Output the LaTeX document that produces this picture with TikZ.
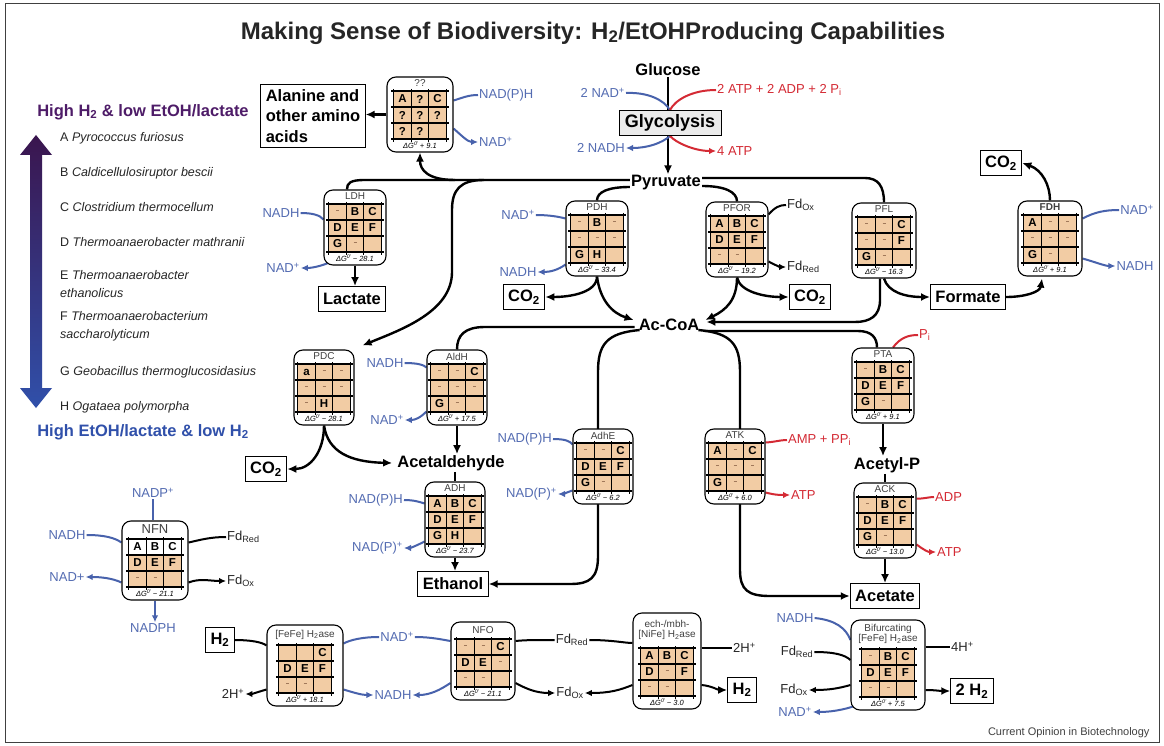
\documentclass[tikz,border=0pt]{standalone}
\usepackage{fontspec}
\setmainfont{Liberation Sans}
\usetikzlibrary{arrows.meta,calc}
\pgfdeclarelayer{back}
\pgfdeclarelayer{bg}
\pgfsetlayers{back,bg,main}
\definecolor{tanc}{RGB}{242,204,164}
\definecolor{cblue}{RGB}{72,98,172}
\definecolor{tblue}{RGB}{84,108,178}
\definecolor{cred}{RGB}{212,42,52}
\definecolor{lpurple}{RGB}{78,28,104}
\definecolor{lblue}{RGB}{48,80,170}
\definecolor{dashc}{RGB}{160,120,90}
\newcommand{\dd}{\textcolor{dashc}{\rule[0.45ex]{3pt}{1.3pt}}}
\newcommand{\dG}[1]{ΔG\textsuperscript{0'}\,#1}
\def\rowonefill{tanc}
\tikzset{
 ebox/.style={draw, fill=white, rounded corners=9pt, line width=1.1pt, inner sep=0pt},
 cell/.style={font=\fontsize{11.5}{12}\selectfont\bfseries, inner sep=0pt},
 gridl/.style={line width=1.1pt},
 elabel/.style={font=\fontsize{10}{10.5}\selectfont, align=center, inner sep=0pt, text=black!75},
 dglabel/.style={font=\fontsize{7.5}{8}\selectfont\itshape, inner sep=0pt},
 met/.style={font=\fontsize{16.5}{18}\selectfont\bfseries, inner sep=1pt},
 mbox/.style={draw, fill=white, line width=0.9pt, font=\fontsize{16.5}{20}\selectfont\bfseries, inner xsep=5pt, inner ysep=3pt, minimum height=25pt},
 cof/.style={font=\fontsize{13}{14}\selectfont, text=tblue, inner sep=1pt},
 rcof/.style={cof, text=cred},
 kcof/.style={cof, text=black!85},
 thk/.style={line width=2.4pt},
 bl/.style={line width=2pt, draw=cblue},
 rd/.style={line width=2pt, draw=cred},
 kl/.style={line width=2pt, draw=black},
 arr/.style={-{Latex[length=9pt,width=8pt]}},
 sarr/.style={-{Latex[length=7pt,width=6.5pt]}},
 spec/.style={font=\fontsize{12.5}{18}\selectfont, anchor=west, inner sep=0pt, text=black!85, align=left},
}
% name, gx, gy, width, toph, label, cells, dG
\newcommand{\enz}[8]{%
\begin{scope}[shift={(#2,#3)}]
 \node[ebox, minimum width=#4pt, minimum height=61pt+#5pt] (#1) at (0,{(13-#5)/2}) {};
 \fill[fill=\rowonefill] (-26.25,-24) rectangle (26.25,-8);
 \fill[tanc] (-26.25,-8) rectangle (26.25,24);
 \foreach \cellc [count=\i from 0] in {#7} {
   \pgfmathtruncatemacro\col{mod(\i,3)}
   \pgfmathtruncatemacro\row{floor(\i/3)}
   \node[cell] at ({(\col-1)*17.5},{-16+16*\row}) {\cellc};
 }
 \foreach \xx in {-26.25,-8.75,8.75,26.25} \draw[gridl] (\xx,-26) -- (\xx,27);
 \foreach \yy in {-24,-8,8,24} \draw[gridl] (-29,\yy) -- (29,\yy);
 \node[elabel] at (0,{-24-#5/2-0.5}) {#6};
 \node[dglabel] at (0,30.5) {#8};
\end{scope}}
\begin{document}
\begin{tikzpicture}[x=1pt,y=-1pt]
\useasboundingbox (0,0) rectangle (1164,746);
\begin{pgfonlayer}{back}
\fill[white] (0,0) rectangle (1164,746);
\draw[line width=0.8pt, black!75] (5,3) rectangle (1159,742);
\end{pgfonlayer}

% title
\node[font=\fontsize{24}{27}\selectfont\bfseries, text=black!85] (title) at (593,33) {Making Sense of Biodiversity: H\textsubscript{2}/EtOHProducing Capabilities};

% legend
\node[font=\fontsize{16.5}{18}\selectfont\bfseries, text=lpurple] (hi) at (143,112) {High H\textsubscript{2} \& low EtOH/lactate};
\node[font=\fontsize{16.5}{18}\selectfont\bfseries, text=lblue] (lo) at (143,432) {High EtOH/lactate \& low H\textsubscript{2}};
\shade[top color=lpurple!75!black, bottom color=lblue] (36,135) -- (52,155) -- (42,155) -- (42,388) -- (52,388) -- (36,408) -- (20,388) -- (30,388) -- (30,155) -- (20,155) -- cycle;
\node[spec] (sa) at (60,138) {A \textit{Pyrococcus furiosus}};
\node[spec] (sb) at (60,173) {B \textit{Caldicellulosiruptor bescii}};
\node[spec] (sc) at (60,207) {C \textit{Clostridium thermocellum}};
\node[spec] (sd) at (60,242) {D \textit{Thermoanaerobacter mathranii}};
\node[spec] (se) at (60,284) {E \textit{Thermoanaerobacter}\\\textit{ethanolicus}};
\node[spec] (sf) at (60,326) {F \textit{Thermoanaerobacterium}\\\textit{saccharolyticum}};
\node[spec] (sg) at (60,372) {G \textit{Geobacillus thermoglucosidasius}};
\node[spec] (sh) at (60,407) {H \textit{Ogataea polymorpha}};

% metabolites
\node[mbox, align=left, font=\fontsize{16.5}{20.5}\selectfont\bfseries, inner sep=5pt] (ala) at (313,116) {Alanine and\\other amino\\acids};
\node[met] (glc) at (668,70) {Glucose};
\node[mbox, fill=black!8, font=\fontsize{18}{20}\selectfont\bfseries, inner xsep=6pt] (gly) at (670,123) {Glycolysis};
\node[met] (pyr) at (666,183) {Pyruvate};
\node[met] (acoa) at (669,325) {Ac-CoA};
\node[met] (acald) at (451,463) {Acetaldehyde};
\node[met] (acp) at (887,465) {Acetyl-P};
\node[mbox] (lac) at (352,299) {Lactate};
\node[mbox] (co2a) at (524,297) {CO\textsubscript{2}};
\node[mbox] (co2b) at (810,297) {CO\textsubscript{2}};
\node[mbox] (form) at (968,297) {Formate};
\node[mbox] (co2c) at (1001,163) {CO\textsubscript{2}};
\node[mbox] (co2d) at (266,469) {CO\textsubscript{2}};
\node[mbox] (etoh) at (453,584) {Ethanol};
\node[mbox] (acet) at (885,596) {Acetate};
\node[mbox] (h2a) at (220,640) {H\textsubscript{2}};
\node[mbox] (h2b) at (742,690) {H\textsubscript{2}};
\node[mbox] (h2c) at (972,691) {2 H\textsubscript{2}};

% enzymes
\enz{qq}{420}{115}{66}{14}{??}{A,?,C,?,?,?,?,?,{}}{\dG{+ 9.1}}
\enz{ldh}{355}{228}{62}{14}{LDH}{\dd,B,C,D,E,F,G,\dd,{}}{\dG{− 28.1}}
\enz{pdh}{597}{239}{62}{14}{PDH}{\dd,B,\dd,\dd,\dd,\dd,G,H,{}}{\dG{− 33.4}}
\enz{pfor}{737}{240}{62}{14}{PFOR}{A,B,C,D,E,F,\dd,\dd,{}}{\dG{− 19.2}}
\enz{pfl}{884}{241}{64}{14}{PFL}{\dd,\dd,C,\dd,\dd,F,G,\dd,{}}{\dG{− 16.3}}
\enz{fdh}{1050}{239}{64}{14}{\textbf{FDH}}{A,\dd,\dd,\dd,\dd,\dd,G,\dd,{}}{\dG{+ 9.1}}
\enz{pdc}{324}{388}{60}{14}{PDC}{a,\dd,\dd,\dd,\dd,\dd,\dd,H,{}}{\dG{− 28.1}}
\enz{aldh}{457}{388}{60}{14}{AldH}{\dd,\dd,C,\dd,\dd,\dd,G,\dd,{}}{\dG{+ 17.5}}
\enz{adhe}{603}{467}{60}{14}{AdhE}{\dd,\dd,C,D,E,F,G,\dd,{}}{\dG{− 6.2}}
\enz{atk}{735}{467}{60}{14}{ATK}{A,\dd,C,\dd,\dd,\dd,G,\dd,{}}{\dG{+ 6.0}}
\enz{pta}{883}{386}{62}{14}{PTA}{\dd,B,C,D,E,F,G,\dd,{}}{\dG{+ 9.1}}
\enz{ack}{885}{521}{62}{14}{ACK}{\dd,B,C,D,E,F,G,\dd,{}}{\dG{− 13.0}}
\enz{adh}{455}{520}{60}{14}{ADH}{A,B,C,D,E,F,G,H,{}}{\dG{− 23.7}}
\def\rowonefill{white}
\enz{nfn}{155}{563}{66}{18}{\fontsize{13}{13}\selectfont NFN}{A,B,C,D,E,F,\dd,\dd,{}}{\dG{− 21.1}}
\def\rowonefill{tanc}
\enz{fefe}{305}{669}{76}{20}{[FeFe] H\textsubscript{2}ase}{{},{},C,D,E,F,\dd,\dd,{}}{\dG{+ 18.1}}
\enz{nfo}{483}{663}{64}{17}{NFO}{\dd,\dd,C,D,E,\dd,\dd,\dd,{}}{\dG{− 21.1}}
\enz{ech}{667}{672}{68}{35}{ech-/mbh-\\{}[NiFe] H\textsubscript{2}ase}{A,B,C,D,\dd,F,\dd,\dd,{}}{\dG{− 3.0}}
\enz{bif}{888}{673}{74}{29}{Bifurcating\\{}[FeFe] H\textsubscript{2}ase}{\dd,B,C,D,E,F,\dd,\dd,{}}{\dG{+ 7.5}}

% cofactor labels
\node[cof, anchor=west] (qqnadph) at (478,95) {NAD(P)H};
\node[cof, anchor=west] (qqnad) at (478,142) {NAD\textsuperscript{+}};
\node[cof, anchor=east] (gnad) at (626,93) {2 NAD\textsuperscript{+}};
\node[cof, anchor=east] (gnadh) at (626,148) {2 NADH};
\node[rcof, anchor=west] (gatp) at (716,90) {2 ATP + 2 ADP + 2 P\textsubscript{i}};
\node[rcof, anchor=west] (g4atp) at (716,151) {4 ATP};
\node[cof] (ldhnadh) at (281,213) {NADH};
\node[cof] (ldhnad) at (283,268) {NAD\textsuperscript{+}};
\node[cof] (pdhnad) at (518,215) {NAD\textsuperscript{+}};
\node[cof] (pdhnadh) at (518,272) {NADH};
\node[kcof, anchor=west] (pforfdo) at (786,205) {Fd\textsubscript{Ox}};
\node[kcof, anchor=west] (pforfdr) at (786,267) {Fd\textsubscript{Red}};
\node[cof] (fdhnad) at (1137,210) {NAD\textsuperscript{+}};
\node[cof] (fdhnadh) at (1135,266) {NADH};
\node[cof] (aldnadh) at (385,363) {NADH};
\node[cof] (aldnad) at (387,420) {NAD\textsuperscript{+}};
\node[cof, anchor=east] (adhenadph) at (553,439) {NAD(P)H};
\node[cof, anchor=east] (adhenadp) at (558,494) {NAD(P)\textsuperscript{+}};
\node[rcof, anchor=west] (atkamp) at (787,440) {AMP + PP\textsubscript{i}};
\node[rcof, anchor=west] (atkatp) at (790,495) {ATP};
\node[rcof, anchor=west] (ptapi) at (918,335) {P\textsubscript{i}};
\node[rcof, anchor=west] (ackadp) at (934,497) {ADP};
\node[rcof, anchor=west] (ackatp) at (936,552) {ATP};
\node[cof, anchor=east] (adhnadph) at (404,500) {NAD(P)H};
\node[cof, anchor=east] (adhnadp) at (404,548) {NAD(P)\textsuperscript{+}};
\node[cof] (nfnnadp) at (153,493) {NADP\textsuperscript{+}};
\node[cof] (nfnnadh) at (67,535) {NADH};
\node[cof] (nfnnad) at (67,577) {NAD+};
\node[cof] (nfnnadph) at (153,628) {NADPH};
\node[kcof, anchor=west] (nfnfdr) at (226,537) {Fd\textsubscript{Red}};
\node[kcof, anchor=west] (nfnfdo) at (226,581) {Fd\textsubscript{Ox}};
\node[kcof] (h2p1) at (233,694) {2H\textsuperscript{+}};
\node[cof] (fnad) at (397,637) {NAD\textsuperscript{+}};
\node[cof] (fnadh) at (393,695) {NADH};
\node[kcof] (nfofdr) at (572,640) {Fd\textsubscript{Red}};
\node[kcof] (nfofdo) at (570,693) {Fd\textsubscript{Ox}};
\node[kcof, anchor=west] (h2p2) at (732,648) {2H\textsuperscript{+}};
\node[cof] (bnadh) at (795,618) {NADH};
\node[kcof] (bfdr) at (797,652) {Fd\textsubscript{Red}};
\node[kcof] (bfdo) at (794,690) {Fd\textsubscript{Ox}};
\node[cof] (bnad) at (795,712) {NAD\textsuperscript{+}};
\node[kcof, anchor=west] (h4p) at (950,647) {4H\textsuperscript{+}};
\node[font=\fontsize{11}{12}\selectfont, text=black!75, anchor=east] (credit) at (1153,733) {Current Opinion in Biotechnology};

\begin{pgfonlayer}{bg}
% main black flows
\draw[thk,arr] (glc.south) -- (glc.south |- pyr.north);
\draw[thk,arr] (qq.west) -- (qq.west -| ala.east);
\draw[thk] ($(pyr.west)+(0,-3)$) -- (365,180) .. controls (350,180) and (347,183) .. ($(ldh.north)+(-8,0)$);
\draw[thk,arr] (455,180) .. controls (428,180) and (420,170) .. (qq.south);
\draw[thk,arr] (484,180) .. controls (460,180) and (452,190) .. (452,210) -- (452,272) .. controls (452,312) and (400,330) .. ($(pdc.north east)+(8,-4)$);
\draw[thk] ($(pyr.west)+(0,4)$) .. controls (608,187) and (597,192) .. (pdh.north);
\draw[thk] ($(pyr.east)+(0,3)$) .. controls (725,186) and (737,192) .. (pfor.north);
\draw[thk] ($(pyr.east)+(0,-5)$) -- (865,178) .. controls (878,178) and (884,186) .. (pfl.north);
\draw[thk,arr] (pdh.south) .. controls (597,292) and (572,297) .. (co2a.east);
\draw[thk,arr] (pdh.south) .. controls (600,300) and (612,313) .. ($(acoa.north west)+(-4,2)$);
\draw[thk,arr] (pfor.south) .. controls (737,300) and (726,310) .. ($(acoa.north east)+(5,2)$);
\draw[thk,arr] (pfor.south) .. controls (740,292) and (765,297) .. (co2b.west);
\draw[thk,arr] (pfl.south) .. controls (888,292) and (905,297) .. (form.west);
\draw[thk,arr] ($(pfl.south)+(-4,0)$) -- (880,300) .. controls (880,316) and (870,322) .. (855,322) -- ($(acoa.east)+(6,-3)$);
\draw[thk] ($(acoa.east)+(4,6)$) -- (858,331) .. controls (872,331) and (877,338) .. ($(pta.north)+(-6,0)$);
\draw[thk,arr] (form.east) .. controls (1025,297) and (1040,292) .. ($(fdh.south)+(-8,2)$);
\draw[thk,arr] (fdh.north) .. controls (1050,185) and (1042,170) .. (co2c.east);
\draw[thk] ($(acoa.west)+(-3,2)$) -- (485,327) .. controls (465,327) and (457,335) .. (aldh.north);
\draw[thk,arr] ($(acoa.south west)+(2,-2)$) .. controls (606,333) and (598,345) .. (598,372) -- (598,556) .. controls (598,578) and (590,584) .. (570,584) -- (etoh.east);
\draw[thk,arr] ($(acoa.south east)+(-2,-2)$) .. controls (732,333) and (740,345) .. (740,372) -- (740,570) .. controls (740,590) and (748,596) .. (770,596) -- (acet.west);
\draw[thk,arr] (pdc.south) .. controls (324,452) and (310,469) .. (co2d.east);
\draw[thk,arr] (pdc.south) .. controls (328,452) and (350,462) .. ($(acald.west)+(-4,0)$);
\draw[thk,arr] (aldh.south) -- (aldh.south |- acald.north);
\draw[thk] (acald.south -| adh.north) -- (adh.north);
\draw[thk,arr] (adh.south) -- (adh.south |- etoh.north);
\draw[thk,arr] (ldh.south) -- (ldh.south |- lac.north);
\draw[thk,arr] (pta.south) -- (pta.south |- acp.north);
\draw[thk] (acp.south -| ack.north) -- (ack.north);
\draw[thk,arr] (ack.south) -- (ack.south |- acet.north);

% glycolysis cofactors
\draw[bl] (gnad.east) .. controls (648,92) and (664,100) .. (gly.north);
\draw[rd] (gly.north) .. controls (675,100) and (692,90) .. (gatp.west);
\draw[bl,sarr] (gly.south) .. controls (662,143) and (648,148) .. (gnadh.east);
\draw[rd,sarr] (gly.south) .. controls (676,143) and (695,151) .. (g4atp.west);

% enzyme cofactors
\draw[bl] ($(qq.east)+(0,-14)$) .. controls (462,98) and (468,95) .. (qqnadph.west);
\draw[bl,sarr] ($(qq.east)+(0,14)$) .. controls (462,136) and (468,142) .. (qqnad.west);
\draw[bl] (ldhnadh.east) .. controls (312,213) and (320,215) .. ($(ldh.west)+(0,-8)$);
\draw[bl,sarr] ($(ldh.south west)+(8,-4)$) .. controls (322,266) and (312,268) .. (ldhnad.east);
\draw[bl] (pdhnad.east) .. controls (550,215) and (560,217) .. ($(pdh.west)+(0,-20)$);
\draw[bl,sarr] ($(pdh.west)+(0,26)$) .. controls (558,270) and (550,272) .. (pdhnadh.east);
\draw[kl] ($(pfor.east)+(0,-25)$) .. controls (775,207) and (780,205) .. (pforfdo.west);
\draw[kl,sarr] ($(pfor.east)+(0,22)$) .. controls (775,265) and (780,267) .. (pforfdr.west);
\draw[bl] ($(fdh.east)+(0,-20)$) .. controls (1095,212) and (1105,210) .. (fdhnad.west);
\draw[bl,sarr] ($(fdh.east)+(0,20)$) .. controls (1095,262) and (1105,266) .. (fdhnadh.west);
\draw[bl] (aldnadh.east) .. controls (418,363) and (424,365) .. ($(aldh.west)+(0,-20)$);
\draw[bl,sarr] ($(aldh.west)+(0,24)$) .. controls (420,418) and (415,420) .. (aldnad.east);
\draw[bl] (adhenadph.east) .. controls (565,439) and (570,441) .. ($(adhe.west)+(0,-22)$);
\draw[bl,sarr] ($(adhe.west)+(0,24)$) .. controls (568,492) and (563,494) .. (adhenadp.east);
\draw[rd] ($(atk.east)+(0,-24)$) .. controls (775,442) and (780,440) .. (atkamp.west);
\draw[rd,sarr] ($(atk.east)+(0,26)$) .. controls (775,495) and (780,495) .. (atkatp.west);
\draw[rd] ($(pta.north)+(10,0)$) .. controls (900,338) and (908,335) .. (ptapi.west);
\draw[rd] ($(ack.east)+(0,-22)$) .. controls (924,499) and (928,497) .. (ackadp.west);
\draw[rd,sarr] ($(ack.east)+(0,24)$) .. controls (924,550) and (928,552) .. (ackatp.west);
\draw[bl] (adhnadph.east) .. controls (414,500) and (420,502) .. ($(adh.west)+(0,-16)$);
\draw[bl,sarr] ($(adh.west)+(0,22)$) .. controls (416,546) and (410,548) .. (adhnadp.east);
% NFN
\draw[bl] (nfnnadp.south) -- (nfnnadp.south |- nfn.north);
\draw[bl] (nfnnadh.east) .. controls (105,535) and (115,538) .. ($(nfn.west)+(0,-18)$);
\draw[bl,sarr] ($(nfn.west)+(0,22)$) .. controls (112,578) and (100,577) .. (nfnnad.east);
\draw[bl,sarr] (nfn.south) -- (nfn.south |- nfnnadph.north);
\draw[kl] ($(nfn.east)+(0,-18)$) .. controls (200,540) and (210,537) .. (nfnfdr.west);
\draw[kl,sarr] ($(nfn.east)+(0,22)$) .. controls (200,578) and (210,581) .. (nfnfdo.west);
% bottom row
\draw[kl] (h2a.east) .. controls (250,640) and (262,642) .. ($(fefe.west)+(0,-20)$);
\draw[kl,sarr] ($(fefe.west)+(0,24)$) .. controls (258,692) and (252,694) .. (h2p1.east);
\draw[bl] (fnad.west) .. controls (362,637) and (350,640) .. ($(fefe.east)+(0,-22)$);
\draw[bl,sarr] ($(fefe.east)+(0,24)$) .. controls (355,693) and (362,695) .. (fnadh.west);
\draw[bl] (fnad.east) .. controls (432,637) and (444,640) .. ($(nfo.west)+(0,-20)$);
\draw[bl,sarr] ($(nfo.west)+(0,22)$) .. controls (440,690) and (430,695) .. (fnadh.east);
\draw[kl] ($(nfo.east)+(0,-20)$) .. controls (525,640) and (535,640) .. (nfofdr.west);
\draw[kl,sarr] ($(nfo.east)+(0,22)$) .. controls (525,688) and (535,693) .. (nfofdo.west);
\draw[kl] (nfofdr.east) .. controls (612,640) and (625,643) .. ($(ech.west)+(0,-18)$);
\draw[kl,sarr] ($(ech.west)+(0,24)$) .. controls (620,690) and (610,693) .. (nfofdo.east);
\draw[kl] ($(ech.east)+(0,-13)$) .. controls (712,648) and (720,648) .. (h2p2.west);
\draw[kl,arr] ($(ech.east)+(0,24)$) .. controls (712,686) and (718,690) .. (h2b.west);
\draw[bl] (bnadh.east) .. controls (835,620) and (846,628) .. ($(bif.west)+(0,-25)$);
\draw[kl] (bfdr.east) .. controls (835,652) and (845,655) .. ($(bif.west)+(0,-5)$);
\draw[kl,sarr] ($(bif.west)+(0,20)$) .. controls (840,688) and (830,690) .. (bfdo.east);
\draw[bl,sarr] ($(bif.south west)+(8,-6)$) .. controls (850,708) and (835,712) .. (bnad.east);
\draw[kl] ($(bif.east)+(0,-18)$) .. controls (935,647) and (942,647) .. (h4p.west);
\draw[kl,arr] ($(bif.east)+(0,25)$) .. controls (935,690) and (940,691) .. (h2c.west);
\end{pgfonlayer}
\end{tikzpicture}
\end{document}
